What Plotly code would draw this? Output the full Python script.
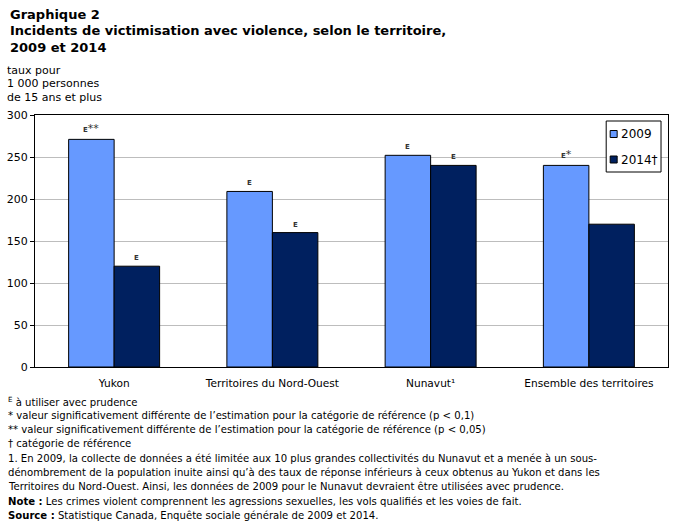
import plotly.graph_objects as go

categories = ["Yukon", "Territoires du Nord-Ouest", "Nunavut¹", "Ensemble des territoires"]
values_2009 = [271, 209, 252, 240]
values_2014 = [120, 160, 240, 170]
labels_2009 = ["E**", "E", "E", "E*"]
labels_2014 = ["E", "E", "E", ""]
series_names = ["2009", "2014†"]
series_colors = ["#6699FF", "#00205F"]
y_ticks = [0, 50, 100, 150, 200, 250, 300]

L, R, T, B = 34, 669, 115, 367
W, H = 676, 525
pw, ph = R - L, B - T
BARGAP = 0.425

def px(x):
    return (x - L) / pw

def py(y):
    return (B - y) / ph

fig = go.Figure()
for vals, name, col in [(values_2009, series_names[0], series_colors[0]),
                        (values_2014, series_names[1], series_colors[1])]:
    fig.add_trace(go.Bar(
        x=categories, y=vals, name=name,
        marker=dict(color=col, line=dict(color="black", width=1)),
        showlegend=False,
    ))

font_main = "DejaVu Sans"
font_note = "DejaVu Sans"

annotations = []
shapes = []

def fmt_flag(lab):
    stars = lab.count("*")
    out = "<b>E</b>" if lab.startswith("E") else ""
    if stars:
        out += "<span style='font-size:11px'>" + "*" * stars + "</span>"
    return out

# bar labels (quality flags) placed through the data axes
bar_w_px = pw / len(categories) * (1 - BARGAP) / 2
for s, (vals, labs) in enumerate([(values_2009, labels_2009), (values_2014, labels_2014)]):
    shift = (s - 0.5) * bar_w_px
    for c, v, lab in zip(categories, vals, labs):
        if lab:
            annotations.append(dict(text=fmt_flag(lab), x=c, y=v, xref="x", yref="y", xshift=shift, yshift=2,
                                    xanchor="center", yanchor="bottom", showarrow=False,
                                    font=dict(family=font_main, size=7, color="#333333")))

title_lines = ["Graphique 2", "Incidents de victimisation avec violence, selon le territoire,", "2009 et 2014"]
for i, t in enumerate(title_lines):
    annotations.append(dict(text="<b>" + t + "</b>", x=px(7), y=py(14 + i * 16.5), xref="paper", yref="paper",
                            xanchor="left", yanchor="middle", showarrow=False,
                            font=dict(family=font_main, size=13, color="black")))
unit_lines = ["taux pour", "1 000 personnes", "de 15 ans et plus"]
for i, t in enumerate(unit_lines):
    annotations.append(dict(text=t, x=px(4), y=py(70 + i * 13.5), xref="paper", yref="paper",
                            xanchor="left", yanchor="middle", showarrow=False,
                            font=dict(family=font_main, size=11, color="black")))
notes = [
    "<sup>E</sup> à utiliser avec prudence",
    "* valeur significativement différente de l’estimation pour la catégorie de référence (p < 0,1)",
    "** valeur significativement différente de l’estimation pour la catégorie de référence (p < 0,05)",
    "† catégorie de référence",
    "1. En 2009, la collecte de données a été limitée aux 10 plus grandes collectivités du Nunavut et a menée à un sous-",
    "dénombrement de la population inuite ainsi qu’à des taux de réponse inférieurs à ceux obtenus au Yukon et dans les",
    "Territoires du Nord-Ouest. Ainsi, les données de 2009 pour le Nunavut devraient être utilisées avec prudence.",
    "<b>Note :</b> Les crimes violent comprennent les agressions sexuelles, les vols qualifiés et les voies de fait.",
    "<b>Source :</b> Statistique Canada, Enquête sociale générale de 2009 et 2014.",
]
note_y = [401, 415, 429, 443, 458, 472, 486, 501, 515]
for t, yy in zip(notes, note_y):
    annotations.append(dict(text=t, x=px(5), y=py(yy), xref="paper", yref="paper",
                            xanchor="left", yanchor="middle", showarrow=False,
                            font=dict(family=font_note, size=10.1, color="black")))

# custom legend box
shapes.append(dict(type="rect", xref="paper", yref="paper", x0=px(607), x1=px(662), y0=py(172), y1=py(121),
                   line=dict(color="black", width=1), fillcolor="white", layer="above"))
for i, (name, col) in enumerate(zip(series_names, series_colors)):
    cy = 134 + i * 25.5
    shapes.append(dict(type="rect", xref="paper", yref="paper", x0=px(611), x1=px(618),
                       y0=py(cy + 3.5), y1=py(cy - 3.5),
                       line=dict(color="black", width=1), fillcolor=col, layer="above"))
    annotations.append(dict(text=name, x=px(619.5), y=py(cy), xref="paper", yref="paper",
                            xanchor="left", yanchor="middle", showarrow=False,
                            font=dict(family=font_main, size=12, color="black")))

fig.update_layout(
    width=W, height=H,
    margin=dict(l=L, r=W - R, t=T, b=H - B, pad=0),
    paper_bgcolor="white", plot_bgcolor="white",
    barmode="group", bargap=BARGAP, bargroupgap=0,
    font=dict(family=font_main, size=11, color="black"),
    showlegend=False,
    annotations=annotations,
    shapes=shapes,
    xaxis=dict(showline=True, linecolor="black", mirror=True, ticks="",
               tickfont=dict(family=font_note, size=10.6), ticklabelstandoff=6),
    yaxis=dict(range=[0, 300], tickvals=y_ticks, showline=True, linecolor="black", mirror=True,
               showgrid=True, gridcolor="#BDBDBD", gridwidth=1, ticks="outside", ticklen=4,
               tickcolor="black", tickfont=dict(family=font_main, size=11), zeroline=False),
)

fig.write_html("out.html")
